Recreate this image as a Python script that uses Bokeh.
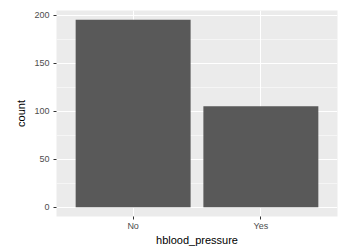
from bokeh.plotting import figure
from bokeh.models import Range1d, FixedTicker, ColumnDataSource
from bokeh.embed import file_html
from bokeh.resources import INLINE

categories = ["No", "Yes"]
counts = [195, 105]
y_ticks = [0, 50, 100, 150, 200]

xpos = list(range(1, len(categories) + 1))
src = ColumnDataSource(dict(x=xpos, top=counts))

p = figure(width=339, height=248, output_backend="svg", toolbar_location=None,
           x_range=Range1d(0.4, 2.6), y_range=Range1d(-9.75, 204.75),
           min_border_left=56, min_border_right=2, min_border_top=10, min_border_bottom=31)
p.outline_line_color = None
p.background_fill_color = "#EBEBEB"
p.border_fill_color = "white"

p.vbar(x="x", top="top", bottom=0, width=0.9, source=src, fill_color="#595959", line_color=None)

p.xaxis.ticker = FixedTicker(ticks=xpos)
p.xaxis.major_label_overrides = {i: c for i, c in zip(xpos, categories)}
p.yaxis.ticker = FixedTicker(ticks=y_ticks, minor_ticks=[25, 75, 125, 175])

for ax in (p.xaxis[0], p.yaxis[0]):
    ax.axis_line_color = None
    ax.major_tick_line_color = "#333333"
    ax.major_tick_in = 0
    ax.major_tick_out = 3
    ax.minor_tick_line_color = None
    ax.major_label_text_color = "#4D4D4D"
    ax.major_label_text_font = "Liberation Sans"
    ax.major_label_text_font_size = "9px"
    ax.axis_label_text_font = "Liberation Sans"
    ax.axis_label_text_font_size = "11px"
    ax.axis_label_text_font_style = "normal"
    ax.axis_label_text_color = "black"

p.xaxis.major_label_standoff = 1
p.xaxis.axis_label_standoff = 0
p.yaxis.major_label_standoff = 3
p.yaxis.axis_label_standoff = 4

p.xaxis.axis_label = "hblood_pressure"
p.yaxis.axis_label = "count"

p.xgrid.grid_line_color = "white"
p.xgrid.grid_line_width = 1.1
p.ygrid.grid_line_color = "white"
p.ygrid.grid_line_width = 1.1
p.ygrid.minor_grid_line_color = "white"
p.ygrid.minor_grid_line_width = 0.5

open("out.html", "w").write(file_html(p, INLINE))
